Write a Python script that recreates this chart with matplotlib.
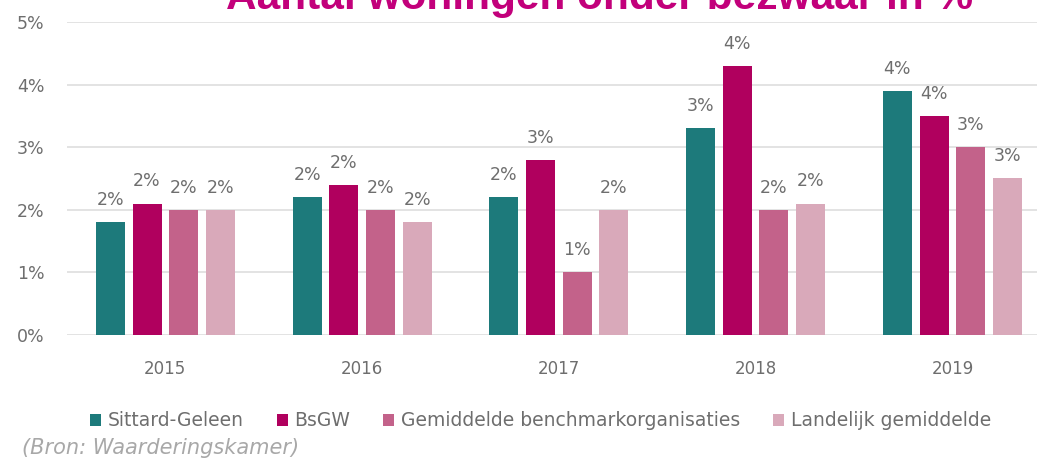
import numpy as np
import matplotlib
matplotlib.use("Agg")
import matplotlib.pyplot as plt
from matplotlib.patches import Patch

plt.rcParams['font.family'] = ['DejaVu Sans']

# data (percent of dwellings under objection)
years = ['2015', '2016', '2017', '2018', '2019']
series_names = ['Sittard-Geleen', 'BsGW', 'Gemiddelde benchmarkorganisaties',
                'Landelijk gemiddelde']
sittard = [1.8, 2.2, 2.2, 3.3, 3.9]
bsgw = [2.1, 2.4, 2.8, 4.3, 3.5]
benchmark = [2.0, 2.0, 1.0, 2.0, 3.0]
landelijk = [2.0, 1.8, 2.0, 2.1, 2.5]
y_ticks = [0, 1, 2, 3, 4, 5]

colors = ['#1d7a7b', '#b0005e', '#c3628a', '#d9a9ba']
text_grey = '#6e6e6e'

fig = plt.figure(figsize=(10.37, 4.58), dpi=100)
ax = fig.add_axes([0.0646, 0.2686, 0.9354, 0.6834])

x = np.arange(len(years))
step = 0.1865
width = 0.1475
all_series = [sittard, bsgw, benchmark, landelijk]

for i, (vals, col) in enumerate(zip(all_series, colors)):
    pos = x + (i - 1.5) * step
    ax.bar(pos, vals, width=width, color=col, zorder=3)
    for px, v in zip(pos, vals):
        ax.annotate(f"{int(np.floor(v + 0.5))}%", xy=(px, v), xytext=(0, 9.5),
                    textcoords='offset points', ha='center', va='bottom',
                    fontsize=12.5, color=text_grey, zorder=4)

ax.set_xlim(-0.5, 4.43)
ax.set_ylim(0, 5)
ax.set_yticks(y_ticks)
ax.set_yticklabels([f"{t}%" for t in y_ticks])
ax.set_xticks(x)
ax.set_xticklabels(years)
ax.grid(axis='y', color='#dedede', linewidth=1.2, zorder=0)
ax.set_axisbelow(True)
for s in ax.spines.values():
    s.set_visible(False)
ax.tick_params(axis='both', length=0, colors=text_grey)
ax.tick_params(axis='x', pad=18, labelsize=12)
ax.tick_params(axis='y', pad=16, labelsize=12.5)

handles = [Patch(facecolor=c, edgecolor='none') for c in colors]
fig.legend(handles, series_names, loc='center left', bbox_to_anchor=(0.0868, 0.081),
           ncol=4, frameon=False, fontsize=13.5, handlelength=0.6, handleheight=0.6,
           handletextpad=0.35, columnspacing=1.75, borderpad=0, borderaxespad=0,
           labelcolor=text_grey)

fig.text(0.021, 0.022, '(Bron: Waarderingskamer)', fontsize=15, style='italic',
         color='#a8a8a8', ha='left', va='center')

# title is cut off at the top of the original picture
fig.text(0.5786, 0.9814, 'Aantal woningen onder bezwaar in %', fontsize=30.5,
         fontweight='bold', color='#c2007b', ha='center', va='baseline',
         family=['Liberation Sans', 'DejaVu Sans'])

fig.savefig('out.png', dpi=100, facecolor='white')
